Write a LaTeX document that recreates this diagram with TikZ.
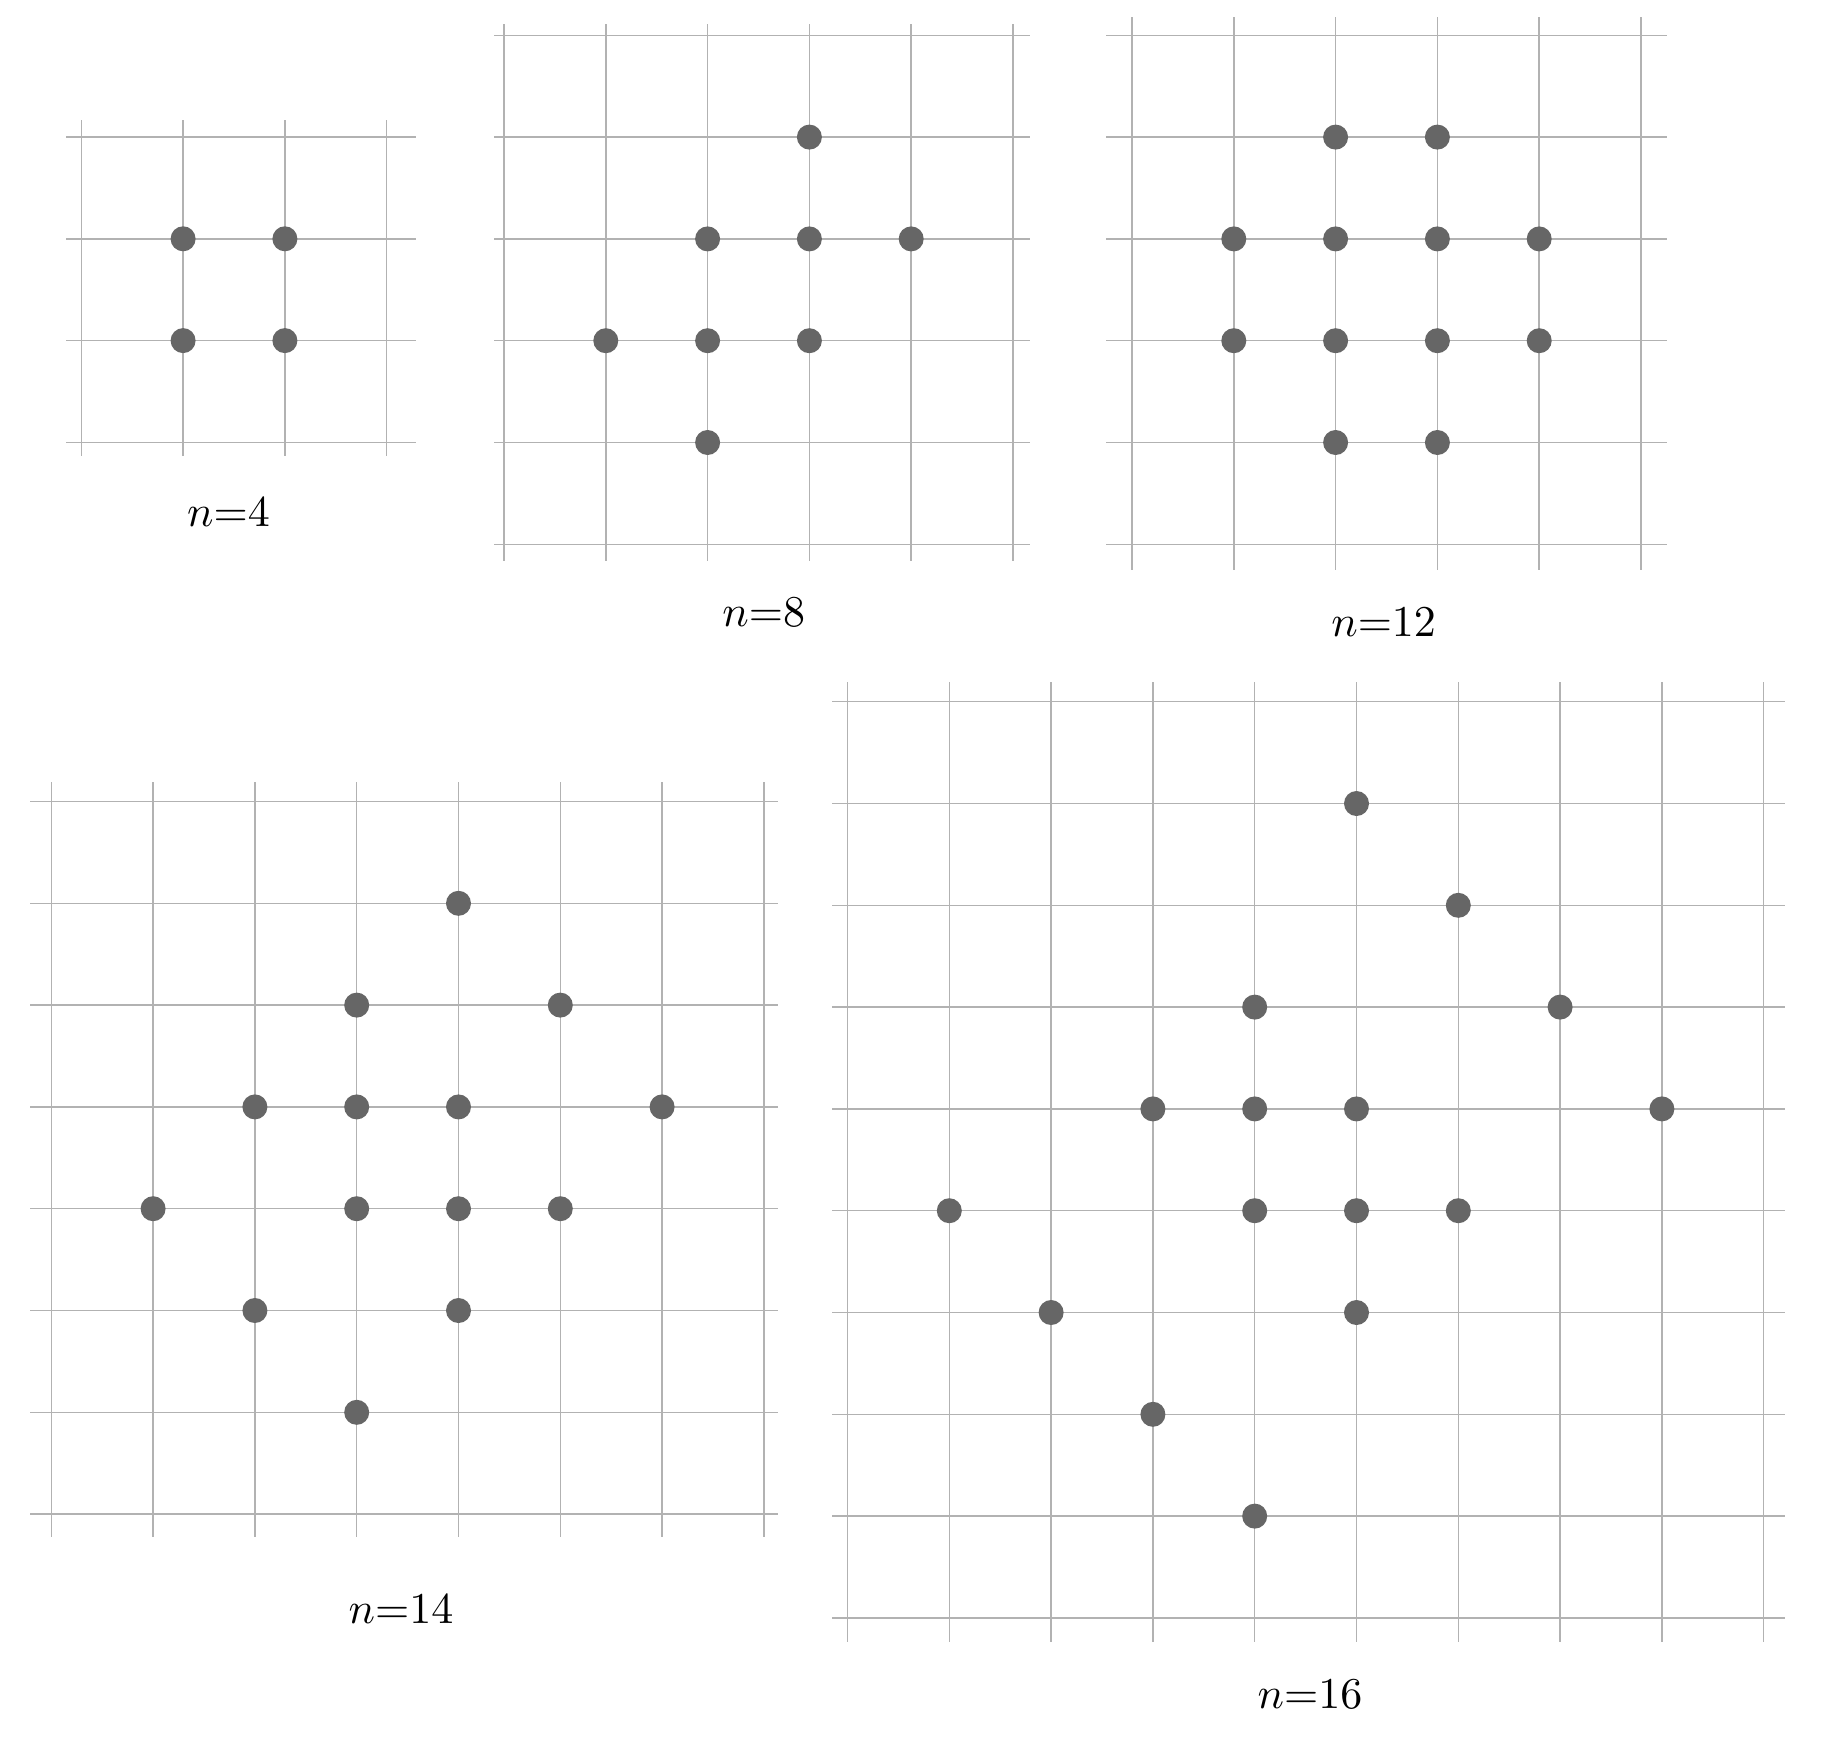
\documentclass[tikz,border=0pt]{standalone}
\usepackage{graphicx}
\begin{document}
\begin{tikzpicture}[x=1pt,y=-1pt,
  gridline/.style={draw=black!30,line width=1.5pt},
  dot/.style={fill=black!60},
  lab/.style={anchor=base,inner sep=0pt}]
\def\gsp{101.8}
\newcommand{\mygrid}[7]{%
  \foreach \i in {0,...,#3}{
    \draw[gridline] (#4,{#2+\i*\gsp}) -- (#5,{#2+\i*\gsp});
    \draw[gridline] ({#1+\i*\gsp},#6) -- ({#1+\i*\gsp},#7);
  }}
\newcommand{\mydots}[3]{%
  \foreach \c/\r in {#3}{
    \fill[dot] ({#1+\c*\gsp},{#2+\r*\gsp}) circle (12.5pt);
  }}
\newcommand{\biglab}[1]{\scalebox{4.4}{$n{=}#1$}}
\useasboundingbox (0,0) rectangle (1834,1748);
\fill[white] (0,0) rectangle (1834,1748);
% n=4
\mygrid{81.3}{137}{3}{66}{416}{120}{456}
\mydots{81.3}{137}{1/1,2/1,1/2,2/2}
\node[lab] (l4) at (228.5,526.7) {\biglab{4}};
% n=8
\mygrid{504}{35.3}{5}{494}{1030}{24}{561}
\mydots{504}{35.3}{3/1,2/2,3/2,4/2,1/3,2/3,3/3,2/4}
\node[lab] (l8) at (763.8,626.7) {\biglab{8}};
% n=12
\mygrid{1132}{35.3}{5}{1106}{1667}{17}{570}
\mydots{1132}{35.3}{2/1,3/1,1/2,2/2,3/2,4/2,1/3,2/3,3/3,4/3,2/4,3/4}
\node[lab] (l12) at (1383.7,636.7) {\biglab{12}};
% n=14
\mygrid{51.3}{801.5}{7}{30}{778}{782}{1537}
\mydots{51.3}{801.5}{4/1,3/2,5/2,2/3,3/3,4/3,6/3,1/4,3/4,4/4,5/4,2/5,4/5,3/6}
\node[lab] (l14) at (401,1623.3) {\biglab{14}};
% n=16
\mygrid{847.5}{701.7}{9}{832}{1785}{682}{1642}
\mydots{847.5}{701.7}{5/1,6/2,4/3,7/3,3/4,4/4,5/4,8/4,1/5,4/5,5/5,6/5,2/6,5/6,3/7,4/8}
\node[lab] (l16) at (1310,1708.3) {\biglab{16}};
\end{tikzpicture}
\end{document}
